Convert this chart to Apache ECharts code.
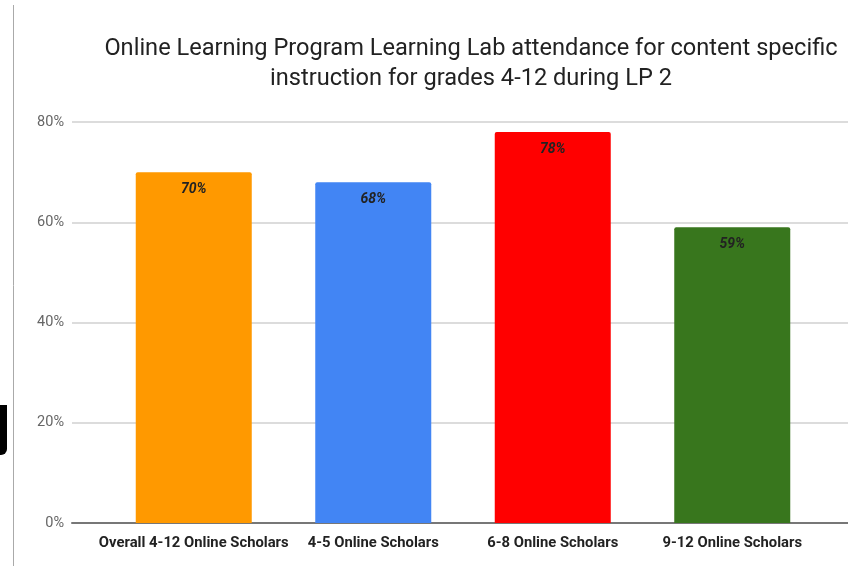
<!DOCTYPE html>
<html>
<head>
<meta charset="utf-8">
<script src="https://cdn.jsdelivr.net/npm/echarts@6/dist/echarts.min.js"></script>
<style>
  html, body { margin: 0; padding: 0; background: #fff; }
  #main { width: 848px; height: 566px; }
</style>
</head>
<body>
<div id="main"></div>
<script>
// data
var categories = ["Overall 4-12 Online Scholars", "4-5 Online Scholars", "6-8 Online Scholars", "9-12 Online Scholars"];
var attendance = [0.70, 0.68, 0.78, 0.59];
var barColors = ["#ff9900", "#4285f4", "#ff0000", "#38761d"];
var yTicks = [0, 0.2, 0.4, 0.6, 0.8];

var pct = function (v) { return Math.round(v * 100) + "%"; };

var myChart = echarts.init(document.getElementById("main"));
var option = {
    backgroundColor: "#fff",
    animation: false,
    title: {
        text: "Online Learning Program Learning Lab attendance for content specific\ninstruction for grades 4-12 during LP 2",
        left: 466,
        top: 29,
        textAlign: "center",
        textStyle: {
            fontFamily: "Roboto",
            fontWeight: "normal",
            fontSize: 23.6,
            lineHeight: 30,
            color: "#222"
        }
    },
    graphic: [
        { type: "line", shape: { x1: 13.5, y1: 5, x2: 13.5, y2: 566 }, style: { stroke: "#aaa", lineWidth: 1 } },
        { type: "rect", shape: { x: -6, y: 405, width: 13, height: 50, r: [0, 0, 6, 0] }, style: { fill: "#000" } }
    ],
    grid: [
        { left: 72, right: 0, top: 122, bottom: 43 },
        { left: 104, right: 26, top: 122, bottom: 43 }
    ],
    xAxis: [
        {
            gridIndex: 0, type: "value", min: 0, max: 1,
            axisLine: { show: true, lineStyle: { color: "#777", width: 2 } },
            axisTick: { show: false }, axisLabel: { show: false }, splitLine: { show: false }
        },
        {
            gridIndex: 1, type: "category", data: categories,
            axisLine: { show: false }, axisTick: { show: false },
            axisLabel: {
                interval: 0,
                margin: 13,
                fontFamily: "Roboto",
                fontWeight: "bold",
                fontSize: 14.8,
                color: "#222"
            }
        }
    ],
    yAxis: [
        {
            gridIndex: 0, type: "value", min: yTicks[0], max: yTicks[yTicks.length - 1], interval: 0.2,
            axisLine: { show: false }, axisTick: { show: false },
            axisLabel: {
                formatter: pct, margin: 8,
                fontFamily: "Roboto", fontSize: 14.5, color: "#666"
            },
            splitLine: { lineStyle: { color: "#dcdcdc", width: 2 } }
        },
        {
            gridIndex: 1, type: "value", min: 0, max: 0.8, show: false
        }
    ],
    series: [{
        type: "bar",
        xAxisIndex: 1,
        yAxisIndex: 1,
        barWidth: 116,
        data: attendance.map(function (v, i) {
            return { value: v, itemStyle: { color: barColors[i] } };
        }),
        itemStyle: { borderRadius: [2, 2, 0, 0] },
        label: {
            show: true,
            position: "insideTop",
            distance: 10,
            formatter: function (p) { return pct(p.value); },
            fontFamily: "Roboto",
            fontStyle: "italic",
            fontWeight: "bold",
            fontSize: 14,
            color: "#222"
        }
    }]
};
myChart.setOption(option);
</script>
</body>
</html>
